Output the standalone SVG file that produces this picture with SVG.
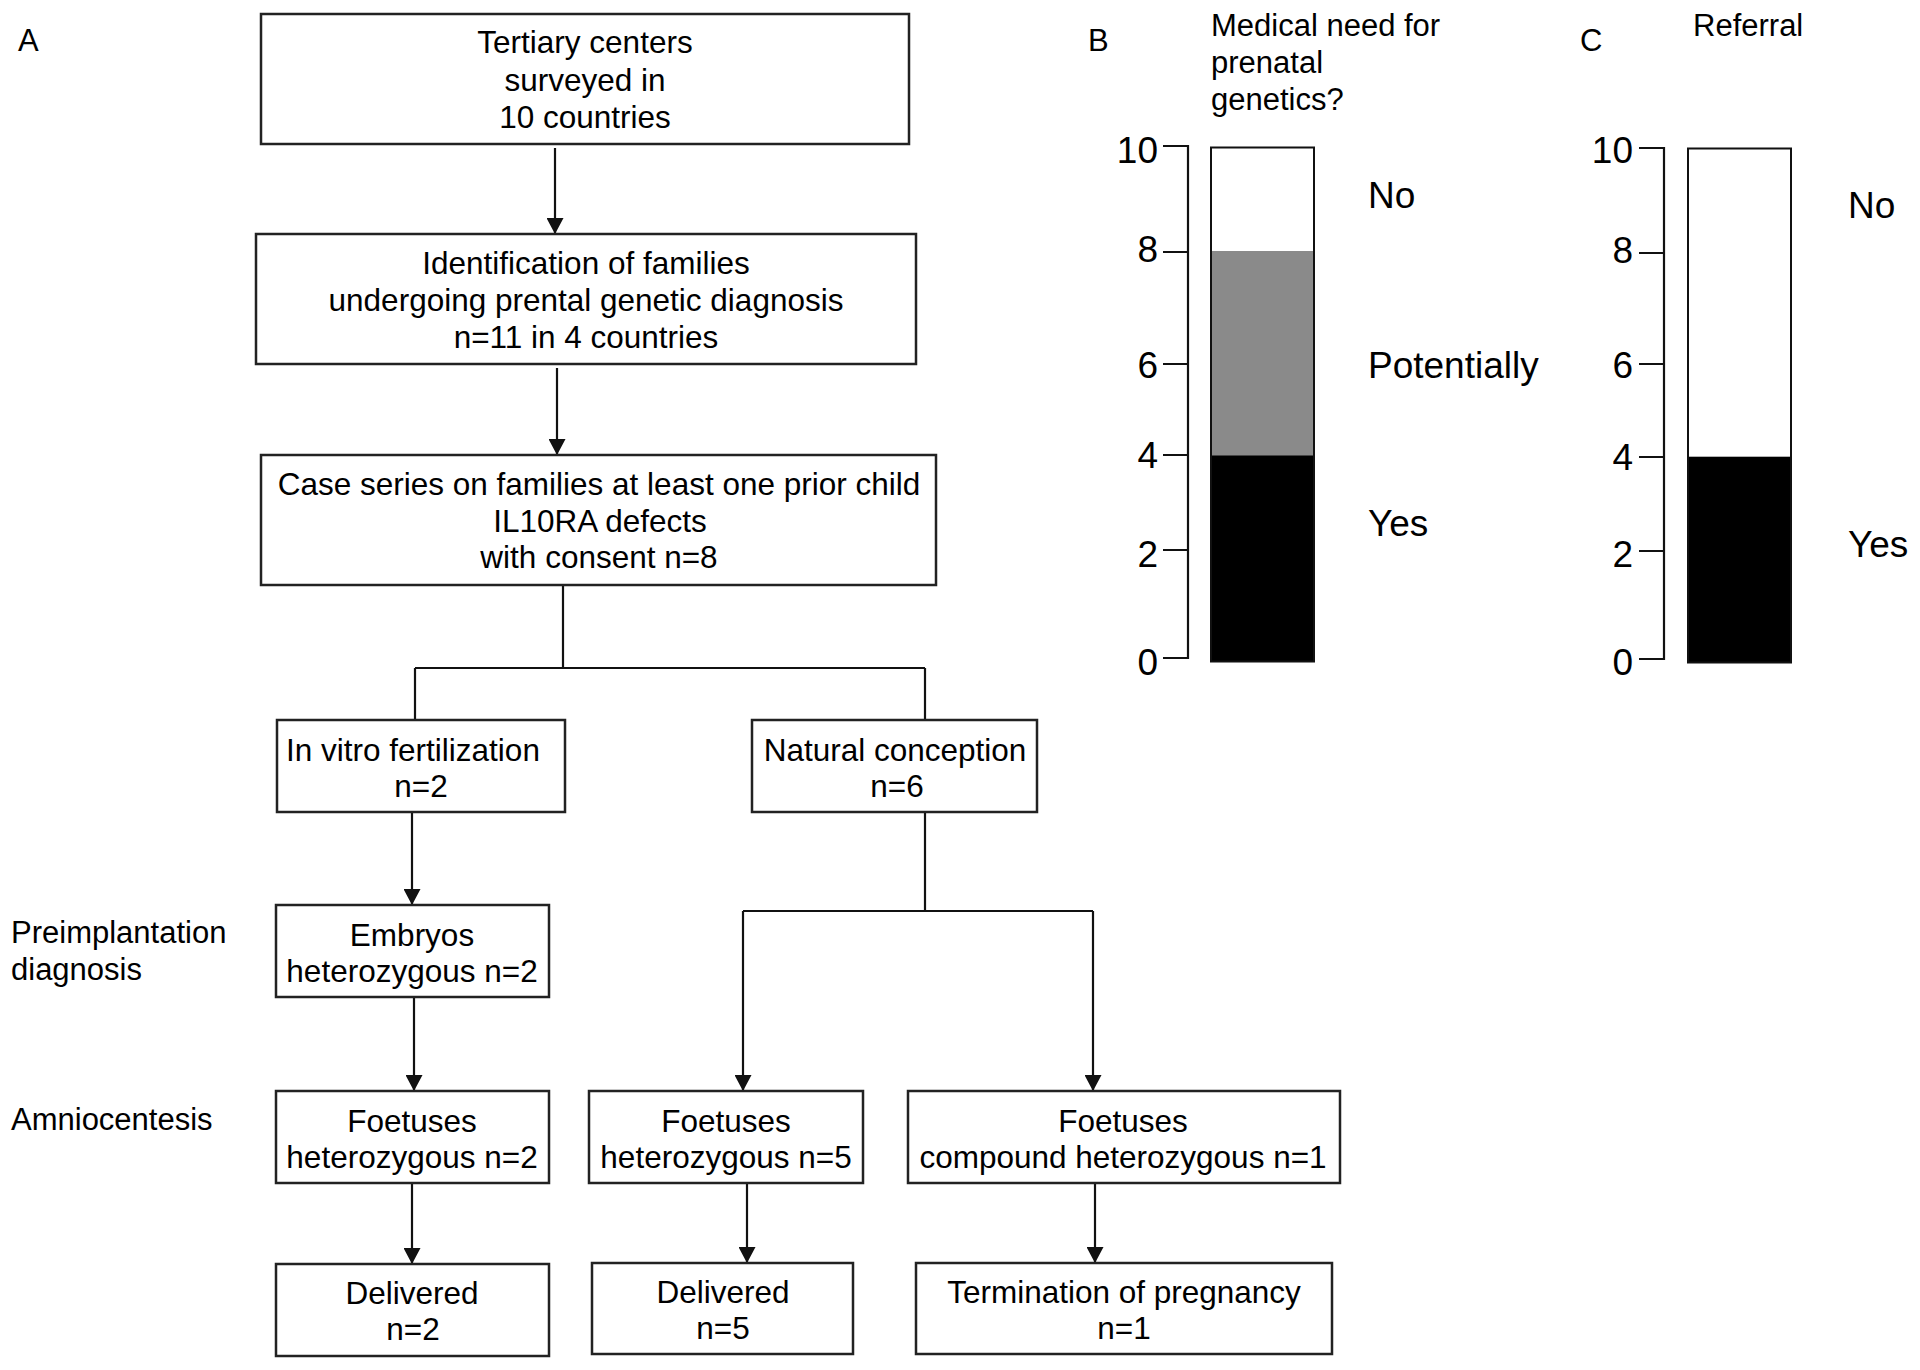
<svg xmlns="http://www.w3.org/2000/svg" width="1920" height="1370" viewBox="0 0 1920 1370">
<style>
text{font-family:"Liberation Sans",Arial,Helvetica,sans-serif;fill:#000}
.box{fill:#fff;stroke:#222;stroke-width:2.5}
.t{font-size:31.5px;text-anchor:middle}
.side{font-size:31px}
.pl{font-size:31px}
.ttl{font-size:31px}
.cat{font-size:37px}
.num{font-size:37px;text-anchor:end}
.con{fill:none;stroke:#111;stroke-width:2.2}
.ax{fill:none;stroke:#111;stroke-width:2.2}
.bar{stroke:#111;stroke-width:2}
</style>
<defs>
<marker id="arr" markerUnits="userSpaceOnUse" markerWidth="18" markerHeight="17" viewBox="0 0 18 17" refX="16" refY="9" orient="auto">
<path d="M0,0.5 L16,9 L0,17.5 Z" fill="#111"/>
</marker>
</defs>
<rect width="1920" height="1370" fill="#fff"/>

<!-- Panel A labels -->
<text class="pl" x="18" y="51">A</text>
<text class="side" x="11" y="943">Preimplantation</text>
<text class="side" x="11" y="980">diagnosis</text>
<text class="side" x="11" y="1130">Amniocentesis</text>

<g id="connectors">
<path class="con" d="M555,148 V234" marker-end="url(#arr)"/>
<path class="con" d="M557,368 V455" marker-end="url(#arr)"/>
<path class="con" d="M563,585 V668 M415,668 H925 M415,668 V720 M925,668 V720"/>
<path class="con" d="M412,812 V905" marker-end="url(#arr)"/>
<path class="con" d="M414,997 V1091" marker-end="url(#arr)"/>
<path class="con" d="M412,1183 V1264" marker-end="url(#arr)"/>
<path class="con" d="M925,812 V911 M743,911 H1093"/>
<path class="con" d="M743,911 V1091" marker-end="url(#arr)"/>
<path class="con" d="M1093,911 V1091" marker-end="url(#arr)"/>
<path class="con" d="M747,1183 V1263" marker-end="url(#arr)"/>
<path class="con" d="M1095,1183 V1263" marker-end="url(#arr)"/>
</g>

<g id="n1">
<rect class="box" x="261" y="14" width="648" height="130"/>
<text class="t" x="585" y="53">Tertiary centers</text>
<text class="t" x="585" y="91">surveyed in</text>
<text class="t" x="585" y="128">10 countries</text>
</g>
<g id="n2">
<rect class="box" x="256" y="234" width="660" height="130"/>
<text class="t" x="586" y="274">Identification of families</text>
<text class="t" x="586" y="311">undergoing prental genetic diagnosis</text>
<text class="t" x="586" y="348">n=11 in 4 countries</text>
</g>
<g id="n3">
<rect class="box" x="261" y="455" width="675" height="130"/>
<text class="t" x="599" y="495">Case series on families at least one prior child</text>
<text class="t" x="600" y="532">IL10RA defects</text>
<text class="t" x="599" y="568">with consent n=8</text>
</g>
<g id="ivf">
<rect class="box" x="277" y="720" width="288" height="92"/>
<text class="t" x="413" y="761">In vitro fertilization</text>
<text class="t" x="421" y="797">n=2</text>
</g>
<g id="nc">
<rect class="box" x="752" y="720" width="285" height="92"/>
<text class="t" x="895" y="761">Natural conception</text>
<text class="t" x="897" y="797">n=6</text>
</g>
<g id="emb">
<rect class="box" x="276" y="905" width="273" height="92"/>
<text class="t" x="412" y="946">Embryos</text>
<text class="t" x="412" y="982">heterozygous n=2</text>
</g>
<g id="f1">
<rect class="box" x="276" y="1091" width="273" height="92"/>
<text class="t" x="412" y="1132">Foetuses</text>
<text class="t" x="412" y="1168">heterozygous n=2</text>
</g>
<g id="f2">
<rect class="box" x="589" y="1091" width="274" height="92"/>
<text class="t" x="726" y="1132">Foetuses</text>
<text class="t" x="726" y="1168">heterozygous n=5</text>
</g>
<g id="f3">
<rect class="box" x="908" y="1091" width="432" height="92"/>
<text class="t" x="1123" y="1132">Foetuses</text>
<text class="t" x="1123" y="1168">compound heterozygous n=1</text>
</g>
<g id="d1">
<rect class="box" x="276" y="1264" width="273" height="92"/>
<text class="t" x="412" y="1304">Delivered</text>
<text class="t" x="413" y="1340">n=2</text>
</g>
<g id="d2">
<rect class="box" x="592" y="1263" width="261" height="91"/>
<text class="t" x="723" y="1303">Delivered</text>
<text class="t" x="723" y="1339">n=5</text>
</g>
<g id="term">
<rect class="box" x="916" y="1263" width="416" height="91"/>
<text class="t" x="1124" y="1303">Termination of pregnancy</text>
<text class="t" x="1124" y="1339">n=1</text>
</g>

<!-- Panel B -->
<g id="chartB">
<text class="pl" x="1088" y="51">B</text>
<text class="ttl" x="1211" y="36">Medical need for</text>
<text class="ttl" x="1211" y="73">prenatal</text>
<text class="ttl" x="1211" y="110">genetics?</text>
<path class="ax" d="M1163,146 H1188 V658 H1163 M1163,252 H1188 M1163,364 H1188 M1163,455 H1188 M1163,550 H1188"/>
<text class="num" x="1158" y="163">10</text>
<text class="num" x="1158" y="262">8</text>
<text class="num" x="1158" y="378">6</text>
<text class="num" x="1158" y="468">4</text>
<text class="num" x="1158" y="567">2</text>
<text class="num" x="1158" y="675">0</text>
<rect x="1211" y="251" width="103" height="205" fill="#8a8a8a"/>
<rect x="1211" y="455.5" width="103" height="206" fill="#000"/>
<rect x="1211" y="147.5" width="103" height="514" fill="none" class="bar"/>
<text class="cat" x="1368" y="208">No</text>
<text class="cat" x="1368" y="378">Potentially</text>
<text class="cat" x="1368" y="536">Yes</text>
</g>

<!-- Panel C -->
<g id="chartC">
<text class="pl" x="1580" y="51">C</text>
<text class="ttl" x="1693" y="36">Referral</text>
<path class="ax" d="M1639,148 H1664 V659 H1639 M1639,253 H1664 M1639,364 H1664 M1639,457 H1664 M1639,551 H1664"/>
<text class="num" x="1633" y="163">10</text>
<text class="num" x="1633" y="263">8</text>
<text class="num" x="1633" y="378">6</text>
<text class="num" x="1633" y="470">4</text>
<text class="num" x="1633" y="567">2</text>
<text class="num" x="1633" y="675">0</text>
<rect x="1688" y="456.7" width="103" height="206" fill="#000"/>
<rect x="1688" y="148.5" width="103" height="514" fill="none" class="bar"/>
<text class="cat" x="1848" y="218">No</text>
<text class="cat" x="1848" y="557">Yes</text>
</g>
</svg>
